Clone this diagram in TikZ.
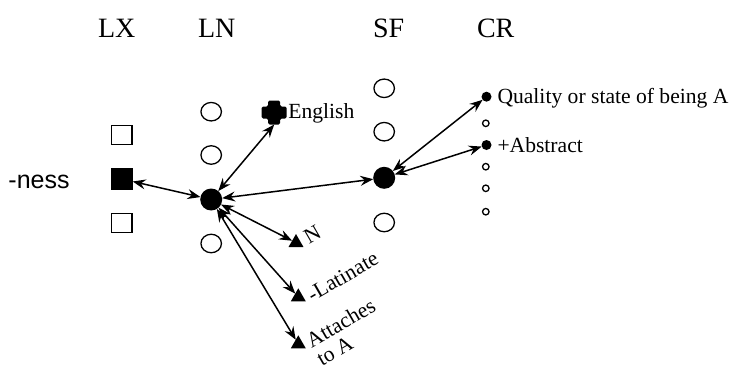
\documentclass[tikz,border=0pt]{standalone}
\usepackage{fontspec}
\setmainfont{Liberation Serif}
\newfontfamily\arialfont{Liberation Sans}
\usetikzlibrary{arrows.meta,shapes.geometric}

\begin{document}
\begin{tikzpicture}[x=1pt,y=-1pt,
  every node/.style={inner sep=0pt, outer sep=0pt},
  head/.style={font=\fontsize{28}{32}\selectfont, anchor=base west},
  lbl/.style={font=\fontsize{21.6}{20.6}\selectfont, anchor=base west},
  opencirc/.style={ellipse, draw, line width=1.3pt, minimum width=20.5pt, minimum height=18.5pt},
  dotbig/.style={circle, fill, minimum size=22pt},
  opensq/.style={rectangle, draw, line width=1.3pt, minimum width=20.5pt, minimum height=19pt},
  fillsq/.style={rectangle, fill, minimum size=21.7pt},
  tri/.style={regular polygon, regular polygon sides=3, fill, minimum size=17.3pt},
  dotsmall/.style={circle, fill, minimum size=10pt},
  opensmall/.style={circle, draw, line width=1.3pt, minimum size=6.5pt},
  crossbox/.style={rectangle, minimum width=25pt, minimum height=24pt},
  link/.style={{Stealth[length=13pt,width=10pt,inset=4.5pt]}-{Stealth[length=13pt,width=10pt,inset=4.5pt]}, line width=1.5pt},
]
\useasboundingbox (0,0) rectangle (734,367);

% column headings
\node[head] (hlx) at (98,37.3) {LX};
\node[head] (hln) at (198,37.3) {LN};
\node[head] (hsf) at (373,37.3) {SF};
\node[head] (hcr) at (477,37.3) {CR};

% LX column
\node[font=\arialfont\fontsize{25}{30}\selectfont, anchor=base west] (ness) at (8.5,188.3) {-ness};
\node[opensq] (lx1) at (121.7,135) {};
\node[fillsq] (lx2) at (121.8,179) {};
\node[opensq] (lx3) at (121.7,223.3) {};

% LN column
\node[opencirc] (ln1) at (211.2,111.7) {};
\node[opencirc] (ln2) at (211.2,155) {};
\node[dotbig]   (ln3) at (211.2,199.5) {};
\node[opencirc] (ln4) at (211.2,243.5) {};

% LN features
\node[crossbox] (eng) at (274.2,112.5) {};
\fill[shift={(eng.center)}, rounded corners=1.5pt]
  (-12.5,-6) -- (-6,-6) -- (-6,-12) -- (6,-12) -- (6,-6) -- (12.5,-6)
  -- (12.5,6) -- (6,6) -- (6,12) -- (-6,12) -- (-6,6) -- (-12.5,6) -- cycle;
\node[lbl] (engl) at (288.3,118.3) {English};

\node[tri] (tn) at (296,242.7) {};
\node[tri] (tlat) at (298.3,297) {};
\node[tri] (tatt) at (298.3,344) {};
\node[lbl, rotate=30] (ln) at (309,244) {N};
\node[lbl, rotate=30] (llat) at (312.5,302) {-Latinate};
% anchored at the baseline of its last line
\node[lbl, rotate=30] (latt) at (322,366.1)
  {\begin{tabular}[b]{@{}l@{}}Attaches\\to A\end{tabular}};

% SF column
\node[opencirc] (sf1) at (384.2,88.3) {};
\node[opencirc] (sf2) at (384.2,131.7) {};
\node[dotbig]   (sf3) at (384.2,177.8) {};
\node[opencirc] (sf4) at (384.2,222.5) {};

% CR column
\node[dotsmall]  (cr1) at (486.5,96.7) {};
\node[opensmall] (cr2) at (485.8,123.3) {};
\node[dotsmall]  (cr3) at (486.5,145) {};
\node[opensmall] (cr4) at (485.8,166.7) {};
\node[opensmall] (cr5) at (485.8,188.3) {};
\node[opensmall] (cr6) at (485.8,211.7) {};
\node[lbl] (lq) at (497.5,103.5) {Quality or state of being A};
\node[lbl] (la) at (497.5,152) {+Abstract};

% links
\draw[link] (lx2) -- (ln3);
\draw[link] (ln3) -- (eng.south);
\draw[link] (ln3) -- (sf3);
\draw[link] (ln3) -- (tn);
\draw[link] (ln3) -- (tlat);
\draw[link] (ln3) -- (tatt);
\draw[link] (sf3) -- (cr1);
\draw[link] (sf3) -- (cr3);
\end{tikzpicture}
\end{document}
